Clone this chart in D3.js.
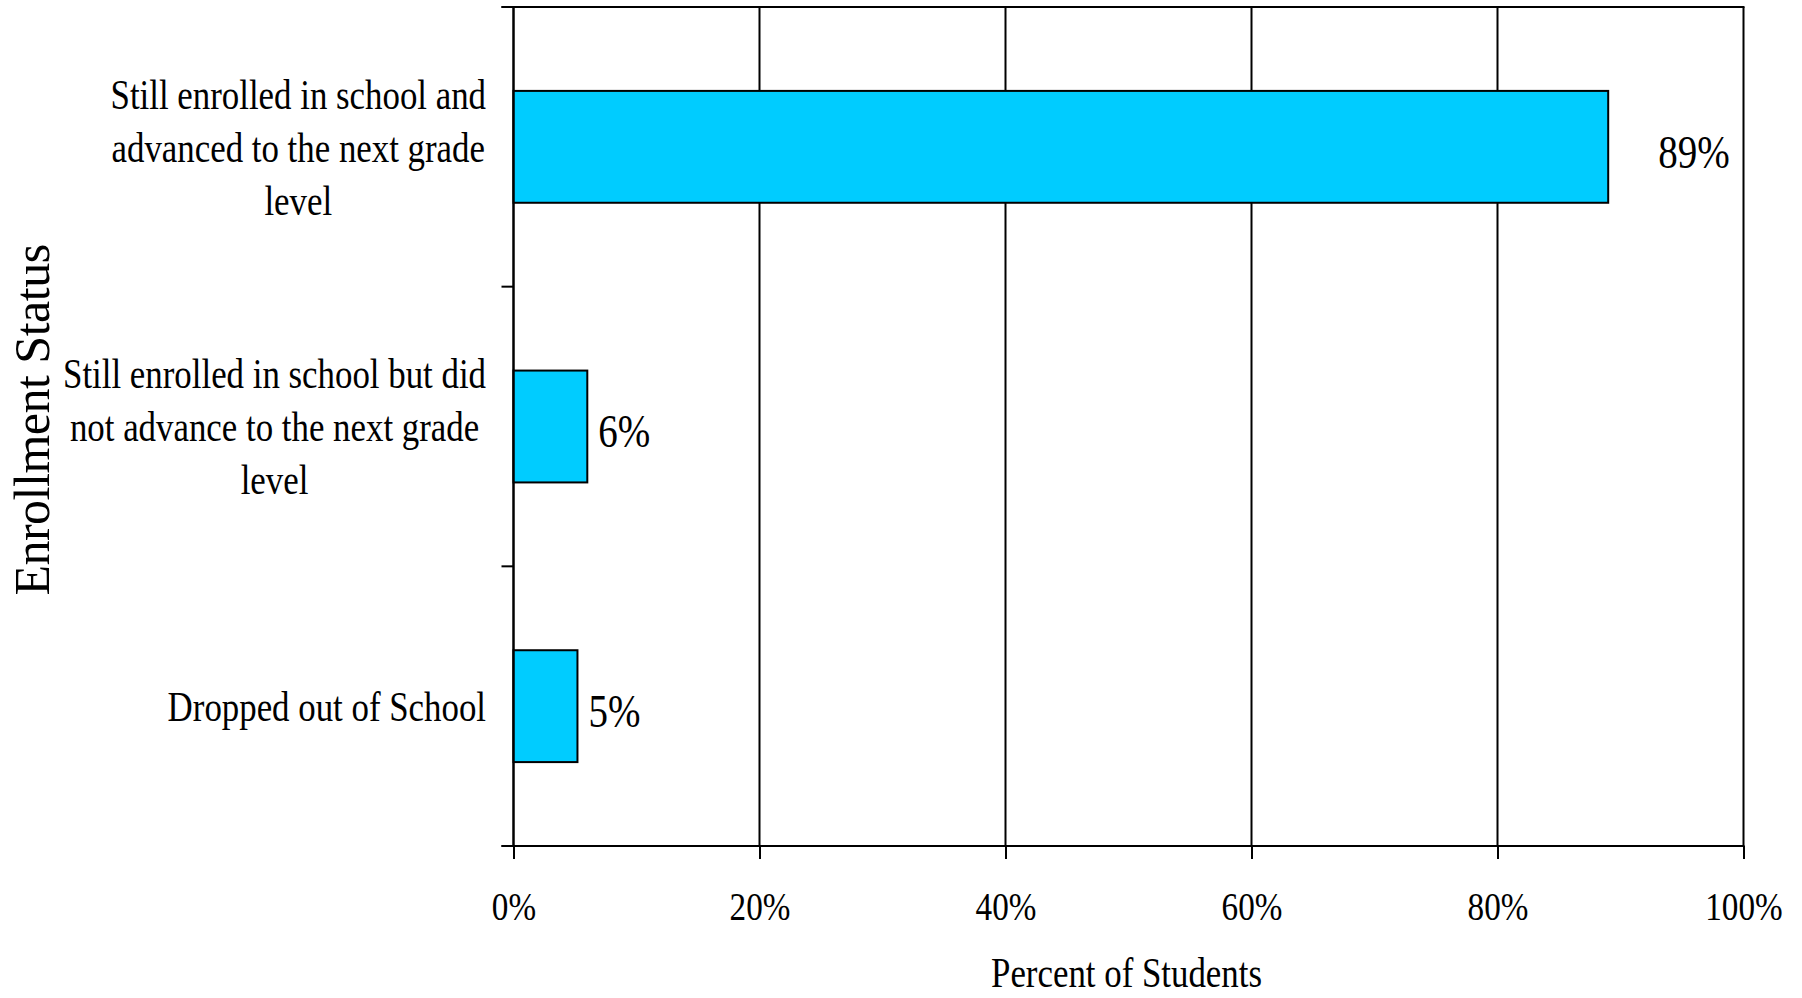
<!DOCTYPE html>
<html>
<head>
<meta charset="utf-8">
<script src="https://cdn.jsdelivr.net/npm/d3@7"></script>
<style>
  html, body { margin: 0; padding: 0; background: #ffffff; }
  svg { display: block; }
  text { font-family: "Liberation Serif", "Times New Roman", serif; fill: #000; }
</style>
</head>
<body>
<script>
// ---- data ----
const categories = [
  "Still enrolled in school and advanced to the next grade level",
  "Still enrolled in school but did not advance to the next grade level",
  "Dropped out of School"
];
const categoryLines = [
  ["Still enrolled in school and", "advanced to the next grade", "level"],
  ["Still enrolled in school but did", "not advance to the next grade", "level"],
  ["Dropped out of School"]
];
const values = [89, 6, 5.2];
const xTicks = [0, 20, 40, 60, 80, 100];
const xTitle = "Percent of Students";
const yTitle = "Enrollment Status";

// ---- layout ----
const W = 1802, H = 998;
const SX = 0.83; // horizontal condensation of the text
const plotL = 513.5, plotR = 1743.5, plotT = 7, plotB = 846;

const svg = d3.select("body").append("svg").attr("width", W).attr("height", H);

const x = d3.scaleLinear().domain([0, 100]).range([plotL, plotR]);
const y = d3.scaleBand().domain(categories).range([plotT, plotB])
  .paddingInner(0.6).paddingOuter(0.3);

function addText(parent, tx, ty, str, size, anchor) {
  const g = parent.append("g").attr("transform", `translate(${tx},${ty}) scale(${SX},1)`);
  return g.append("text").attr("x", 0).attr("y", 0)
    .attr("font-size", size).attr("text-anchor", anchor || "middle").text(str);
}

// gridlines (vertical)
svg.append("g").selectAll("line").data(xTicks).join("line")
  .attr("x1", d => x(d)).attr("x2", d => x(d))
  .attr("y1", plotT).attr("y2", plotB)
  .attr("stroke", "#000").attr("stroke-width", 2);

// top border line (extends to tick length on the left)
svg.append("line").attr("x1", plotL - 12).attr("x2", plotR + 1)
  .attr("y1", plotT).attr("y2", plotT).attr("stroke", "#000").attr("stroke-width", 2);

// bars
svg.append("g").selectAll("rect").data(categories).join("rect")
  .attr("x", x(0))
  .attr("y", d => y(d))
  .attr("width", (d, i) => x(values[i]) - x(0))
  .attr("height", y.bandwidth())
  .attr("fill", "#00CCFF")
  .attr("stroke", "#000").attr("stroke-width", 2);

// y axis line and boundary ticks
svg.append("line").attr("x1", plotL).attr("x2", plotL).attr("y1", plotT).attr("y2", plotB)
  .attr("stroke", "#000").attr("stroke-width", 2);
const bounds = d3.range(categories.length + 1).map(i => plotT + i * y.step());
svg.append("g").selectAll("line").data(bounds).join("line")
  .attr("x1", plotL - 12).attr("x2", plotL).attr("y1", d => d).attr("y2", d => d)
  .attr("stroke", "#000").attr("stroke-width", 2);

// x axis
const xAxis = d3.axisBottom(x).tickValues(xTicks).tickSize(13).tickSizeOuter(0)
  .tickFormat(d => d + "%");
const gx = svg.append("g").attr("transform", `translate(0,${plotB})`).call(xAxis);
gx.select(".domain").attr("stroke", "#000").attr("stroke-width", 2)
  .attr("d", `M${plotL - 12},0H${plotR + 1}`);
gx.selectAll(".tick line").attr("stroke", "#000").attr("stroke-width", 2);
gx.selectAll(".tick text")
  .attr("y", 74).attr("dy", 0)
  .attr("font-size", 40)
  .attr("font-family", '"Liberation Serif", "Times New Roman", serif')
  .attr("fill", "#000")
  .attr("transform", `scale(${SX},1)`);

// category labels (wrapped, block right-aligned near the axis, lines centered)
const labelRight = 486, lineH = 53, catSize = 42;
categories.forEach((c, i) => {
  const lines = categoryLines[i];
  const cy = y(c) + y.bandwidth() / 2 + 1;
  const g = svg.append("g");
  const lys = lines.map((ln, j) => cy + (j - (lines.length - 1) / 2) * lineH + catSize * 0.33);
  const texts = lines.map((ln, j) => addText(g, 0, lys[j], ln, catSize, "middle"));
  const maxW = d3.max(texts, t => t.node().getComputedTextLength()) * SX;
  const cx = labelRight - maxW / 2;
  texts.forEach((t, j) => {
    d3.select(t.node().parentNode).attr("transform", `translate(${cx},${lys[j]}) scale(${SX},1)`);
  });
});

// data labels
categories.forEach((c, i) => {
  const gap = i === 0 ? 50 : 11;
  addText(svg, x(values[i]) + gap, y(c) + y.bandwidth() / 2 + 5 + 47 * 0.34,
    Math.round(values[i]) + "%", 47, "start");
});

// axis titles
addText(svg, (plotL + plotR) / 2 - 2, 987, xTitle, 42, "middle");

svg.append("g").attr("transform", `translate(49,420) rotate(-90)`)
  .append("text").attr("text-anchor", "middle").attr("font-size", 50)
  .attr("letter-spacing", -0.5).text(yTitle);
</script>
</body>
</html>
